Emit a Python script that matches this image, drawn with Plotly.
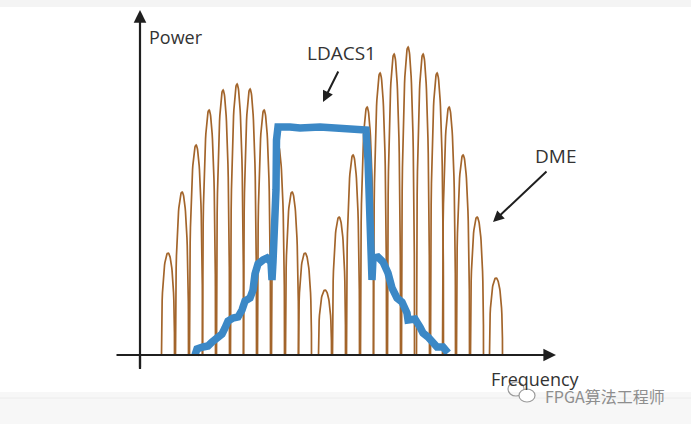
import numpy as np
import plotly.graph_objects as go

# ---------------- data ----------------
# frequency: arbitrary units from the power axis; power: arbitrary units above the frequency axis
dme_freq = [28, 42, 56, 69, 83, 97, 110, 124, 138, 152, 165, 185,
            199, 213, 227, 240, 254, 268, 283, 297, 309, 323, 337, 356]
dme_power = [102, 163, 210, 245, 265, 271, 266, 245, 210, 163, 102, 65,
             138, 200, 248, 282, 301, 308, 301, 282, 248, 200, 138, 77]

ldacs_freq = [55, 57, 63, 68, 72, 77, 82, 85, 88, 93, 98, 102, 105, 110, 113, 115,
              118, 123, 127, 131, 132, 133, 134, 135, 136, 136.5, 138, 150, 160, 180,
              200, 220, 226, 228, 229, 230, 231, 232, 233, 238, 243, 248, 252, 257,
              262, 267, 268, 275, 280, 283, 288, 293, 297, 303, 308]
ldacs_power = [0, 6, 8, 9, 13, 18, 21, 27, 34, 37, 38, 45, 54, 57, 65, 81,
               91, 95, 97, 93, 75, 93, 110, 125, 165, 215, 228, 228, 227, 228,
               227, 227, 225, 195, 155, 125, 105, 75, 97, 98, 93, 82, 67, 57,
               53, 42, 35, 36, 28, 22, 18, 12, 8, 8, 2]

# ---------------- style ----------------
W, H = 691, 424
X0, Y0 = 140, 355          # pixel position of the origin
HALF_W = 6.5               # half width of each DME lobe
BROWN = "#a3652b"
BLUE = "#3b88c6"
INK = "#1f1f1f"
TXT = "#333333"
FONT = "Open Sans"
FS = 18


def px_paper_x(px):
    return px / W


def px_paper_y(py):
    return 1 - py / H


# lobe outlines for DME
u = np.concatenate([np.linspace(-1, -0.9, 12), np.linspace(-0.9, 0.9, 40), np.linspace(0.9, 1, 12)])
lob_x, lob_y = [], []
for f, p in zip(dme_freq, dme_power):
    lob_x += list(f + u * HALF_W) + [None]
    lob_y += list(p * np.clip(1 - u ** 2, 0, 1) ** 0.38) + [None]

fig = go.Figure()
fig.add_trace(go.Scatter(x=lob_x, y=lob_y, mode="lines",
                         line=dict(color=BROWN, width=1.7), hoverinfo="skip",
                         showlegend=False))
fig.add_trace(go.Scatter(x=ldacs_freq, y=ldacs_power, mode="lines",
                         line=dict(color=BLUE, width=7.5, shape="linear"),
                         hoverinfo="skip", showlegend=False))

ann = []
# axes as arrows
ann.append(dict(x=W - X0 - 135, y=0, ax=-25, ay=0, axref="x", ayref="y", xref="x", yref="y",
                text="", showarrow=True, arrowhead=2, arrowsize=1.15, arrowwidth=2.2,
                arrowcolor=INK, standoff=0))
ann.append(dict(x=0, y=Y0 - 10, ax=0, ay=-14, axref="x", ayref="y", xref="x", yref="y",
                text="", showarrow=True, arrowhead=2, arrowsize=1.15, arrowwidth=2.2,
                arrowcolor=INK, standoff=0))
# callout arrows
ann.append(dict(x=183, y=253, ax=199, ay=285, axref="x", ayref="y", xref="x", yref="y",
                text="", showarrow=True, arrowhead=2, arrowsize=1.1, arrowwidth=2,
                arrowcolor=INK, standoff=0))
ann.append(dict(x=353, y=133, ax=408, ay=185, axref="x", ayref="y", xref="x", yref="y",
                text="", showarrow=True, arrowhead=2, arrowsize=1.1, arrowwidth=2,
                arrowcolor=INK, standoff=0))
# labels
ann.append(dict(x=7, y=318, xref="x", yref="y", text="Power", showarrow=False,
                xanchor="left", yanchor="middle", font=dict(family=FONT, size=FS, color=TXT)))
ann.append(dict(x=201, y=302, xref="x", yref="y", text="LDACS1", showarrow=False,
                xanchor="center", yanchor="middle", font=dict(family=FONT, size=FS + 1, color=TXT)))
ann.append(dict(x=415, y=199, xref="x", yref="y", text="DME", showarrow=False,
                xanchor="center", yanchor="middle", font=dict(family=FONT, size=FS + 1, color=TXT)))
ann.append(dict(x=349, y=-24, xref="x", yref="y", text="Frequency", showarrow=False,
                xanchor="left", yanchor="middle", font=dict(family=FONT, size=FS, color=TXT)))
# watermark
ann.append(dict(x=px_paper_x(543), y=px_paper_y(396), xref="paper", yref="paper",
                text="FPGA算法工程师", showarrow=False, xanchor="left", yanchor="middle",
                font=dict(family="Noto Sans CJK SC", size=16, color="#8e8e8e")))

shapes = [
    dict(type="rect", xref="paper", yref="paper", x0=0, x1=1,
         y0=px_paper_y(0), y1=px_paper_y(7), fillcolor="#f4f4f4", line=dict(width=0), layer="below"),
    dict(type="rect", xref="paper", yref="paper", x0=0, x1=1,
         y0=px_paper_y(392), y1=px_paper_y(424), fillcolor="#f7f7f7", line=dict(width=0), layer="below"),
    dict(type="line", xref="paper", yref="paper", x0=0, x1=1,
         y0=px_paper_y(398), y1=px_paper_y(398), line=dict(color="#ececec", width=1), layer="below"),
    # y axis tail below the frequency axis
    dict(type="line", xref="x", yref="y", x0=0, x1=0, y0=-14, y1=0, line=dict(color=INK, width=2.2)),
    # wechat-like icon
    dict(type="circle", xref="paper", yref="paper",
         x0=px_paper_x(508), x1=px_paper_x(524), y0=px_paper_y(396), y1=px_paper_y(382),
         line=dict(color="#9a9a9a", width=1.2)),
    dict(type="circle", xref="paper", yref="paper",
         x0=px_paper_x(519), x1=px_paper_x(535), y0=px_paper_y(402), y1=px_paper_y(389),
         line=dict(color="#9a9a9a", width=1.2), fillcolor="white"),
]

fig.update_layout(
    width=W, height=H, margin=dict(l=0, r=0, t=0, b=0),
    paper_bgcolor="white", plot_bgcolor="rgba(0,0,0,0)",
    xaxis=dict(range=[-X0, W - X0], visible=False, fixedrange=True),
    yaxis=dict(range=[Y0 - H, Y0], visible=False, fixedrange=True),
    annotations=ann, shapes=shapes, showlegend=False,
)

fig.write_html("out.html", config={"displayModeBar": False, "staticPlot": True},
               post_script="document.body.style.margin='0';document.body.style.overflow='hidden';")
